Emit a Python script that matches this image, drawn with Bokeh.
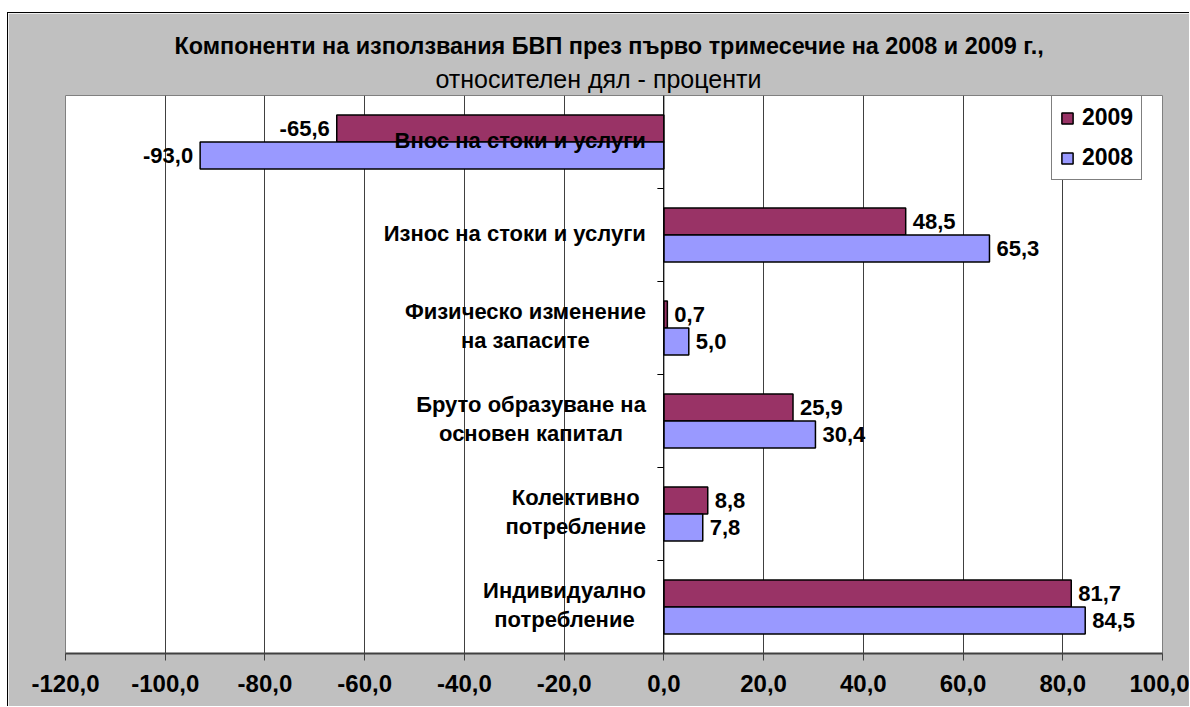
from bokeh.plotting import figure
from bokeh.models import (Range1d, FactorRange, ColumnDataSource, FixedTicker,
                          CustomJSTickFormatter, Title, Legend, LegendItem, Span)
from bokeh.transform import dodge
from bokeh.core.properties import value
from bokeh.embed import file_html
from bokeh.resources import INLINE

title_text = "Компоненти на използвания БВП през първо тримесечие на 2008 и 2009 г.,"
subtitle_text = "относителен дял - проценти"

categories = [
    "Внос на стоки и услуги",
    "Износ на стоки и услуги",
    "Физическо изменение\nна запасите",
    "Бруто образуване на\nосновен капитал",
    "Колективно\nпотребление",
    "Индивидуално\nпотребление",
]
series_names = ["2009", "2008"]
values_2009 = [-65.6, 48.5, 0.7, 25.9, 8.8, 81.7]
values_2008 = [-93.0, 65.3, 5.0, 30.4, 7.8, 84.5]
x_ticks = [-120, -100, -80, -60, -40, -20, 0, 20, 40, 60, 80, 100]

FONT = "Liberation Sans"
C09 = "#993366"
C08 = "#9999FF"
BG = "#C0C0C0"


def fmt(v):
    return f"{v:.1f}".replace(".", ",")


src = ColumnDataSource(dict(
    cat=categories,
    v09=values_2009,
    v08=values_2008,
    lab09=[fmt(v) for v in values_2009],
    lab08=[fmt(v) for v in values_2008],
    al09=["left" if v >= 0 else "right" for v in values_2009],
    al08=["left" if v >= 0 else "right" for v in values_2008],
    off09=[7 if v >= 0 else -7 for v in values_2009],
    off08=[7 if v >= 0 else -7 for v in values_2008],
))

p = figure(width=1182, height=694,
           y_range=FactorRange(factors=categories[::-1]),
           x_range=Range1d(x_ticks[0], x_ticks[-1]),
           output_backend="svg", toolbar_location=None,
           min_border_left=57, min_border_right=28,
           min_border_top=82, min_border_bottom=54)

p.margin = (12, 0, 0, 7)
p.styles = {"border-left": "1px solid black", "border-top": "1px solid black"}

p.border_fill_color = BG
p.background_fill_color = "white"
p.outline_line_color = "#808080"
p.outline_line_width = 1

# titles: main title on top, subtitle (added later) closest to the frame
p.title.text = title_text
p.title.align = "left"
p.title.offset = 109
p.title.standoff = 2
p.title.text_font = FONT
p.title.text_font_style = "bold"
p.title.text_font_size = "23.4px"
p.title.text_color = "black"
p.add_layout(Title(text=subtitle_text, align="left", offset=370, standoff=6,
                   text_font=FONT, text_font_style="normal", text_font_size="25px",
                   text_color="black"), "above")

p.yaxis.visible = False
p.ygrid.visible = False
p.xgrid.grid_line_color = "#404040"
p.xgrid.grid_line_width = 1
p.xaxis.ticker = FixedTicker(ticks=x_ticks)
p.xaxis.formatter = CustomJSTickFormatter(code="return tick.toFixed(1).replace('.', ',');")
p.xaxis.axis_line_color = "#404040"
p.xaxis.axis_line_width = 2
p.xaxis.major_tick_out = 7
p.xaxis.major_tick_in = 0
p.xaxis.major_tick_line_color = "#404040"
p.xaxis.minor_tick_line_color = None
p.xaxis.major_label_text_font = FONT
p.xaxis.major_label_text_font_style = "bold"
p.xaxis.major_label_text_font_size = "24px"
p.xaxis.major_label_text_color = "black"
p.xaxis.major_label_standoff = 14

# zero line
p.add_layout(Span(location=0, dimension="height", line_color="black", line_width=1))

# bars
r09 = p.hbar(y=dodge("cat", 0.145, range=p.y_range), left=0, right="v09", height=0.29,
             fill_color=C09, line_color="black", line_width=1.5, source=src)
r08 = p.hbar(y=dodge("cat", -0.145, range=p.y_range), left=0, right="v08", height=0.29,
             fill_color=C08, line_color="black", line_width=1.5, source=src)

# y tick marks between categories
tick_src = ColumnDataSource(dict(cat=categories[:-1]))
p.segment(x0=-1.3, x1=0, y0=dodge("cat", -0.5, range=p.y_range),
          y1=dodge("cat", -0.5, range=p.y_range), line_color="black", line_width=1,
          source=tick_src)

# value labels
p.text(x="v09", y=dodge("cat", 0.145, range=p.y_range), text="lab09", x_offset="off09",
       text_align="al09", text_baseline="middle", text_font=value(FONT),
       text_font_style="bold", text_font_size="22px", text_color="black", source=src)
p.text(x="v08", y=dodge("cat", -0.145, range=p.y_range), text="lab08", x_offset="off08",
       text_align="al08", text_baseline="middle", text_font=value(FONT),
       text_font_style="bold", text_font_size="22px", text_color="black", source=src)

# category labels
p.text(x=0, y="cat", text="cat", x_offset=-18, y_offset=-2, anchor="center_right",
       text_align="center", text_baseline="middle", text_line_height=1.19,
       text_font=value(FONT), text_font_style="bold", text_font_size="22px",
       text_color="black", source=src)

# legend
legend = Legend(items=[LegendItem(label=series_names[0], renderers=[r09]),
                       LegendItem(label=series_names[1], renderers=[r08])],
                location=(986, 473), orientation="vertical",
                label_text_font=FONT, label_text_font_style="bold",
                label_text_font_size="23px", label_text_color="black",
                glyph_width=14, glyph_height=14, label_height=24, label_standoff=8,
                spacing=13, padding=8, margin=0,
                border_line_color="black", border_line_width=1,
                background_fill_color="white", background_fill_alpha=1)
p.add_layout(legend)

open("out.html", "w").write(file_html(p, INLINE))
